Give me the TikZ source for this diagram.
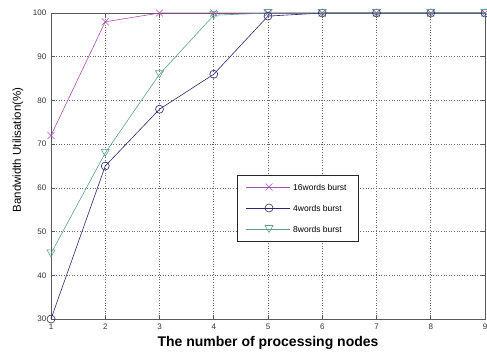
\documentclass[tikz,border=0pt]{standalone}
\usepackage{fontspec}
\setmainfont{Liberation Sans}
\usetikzlibrary{positioning}
\definecolor{burstsixteen}{RGB}{170,80,175}
\definecolor{burstfour}{RGB}{40,40,110}
\definecolor{bursteight}{RGB}{95,160,135}
\tikzstyle{gridline}=[dotted, gray!80!black, line width=0.6pt]
\tikzstyle{axisline}=[gray!70!black, line width=0.7pt]
\tikzstyle{ticklabel}=[font=\fontsize{8}{9}\selectfont, text=black!80, inner sep=1.5pt]
\tikzstyle{series}=[line width=0.6pt]
\tikzstyle{legendtext}=[font=\fontsize{8.5}{10}\selectfont, anchor=west, inner sep=1pt]
\newcommand{\markx}[2]{\draw[#2, line width=0.6pt] (#1) ++(-3.5pt,-3.5pt) -- ++(7pt,7pt) (#1) ++(-3.5pt,3.5pt) -- ++(7pt,-7pt);}
\newcommand{\marko}[2]{\draw[#2, line width=0.6pt] (#1) circle[radius=4pt];}
\newcommand{\markv}[2]{\draw[#2, line width=0.6pt] (#1) ++(-4pt,3.5pt) -- ++(8pt,0pt) -- ++(-4pt,-7pt) -- cycle;}

\begin{document}
\begin{tikzpicture}[x=1pt,y=1pt,node distance=2pt]
    \useasboundingbox (0,0) rectangle (487,360);
    \begin{scope}[shift={(-3.25,-90.14)}, x=54.25pt, y=4.371pt]
        % grid
        \foreach \x in {2,...,8}
            \draw[gridline] (\x,30) -- (\x,100);
        \foreach \v in {40,50,...,90}
            \draw[gridline] (1,\v) -- (9,\v);
        % ticks and labels
        \foreach \x in {1,...,9} {
            \draw[axisline] (\x,30) -- ++(0,4pt) (\x,100) -- ++(0,-4pt);
            \node[ticklabel, below=3pt] (xl\x) at (\x,30) {\x};
        }
        \foreach \v in {30,40,...,100} {
            \draw[axisline] (1,\v) -- ++(4pt,0) (9,\v) -- ++(-4pt,0);
            \node[ticklabel, left=3pt] (yl\v) at (1,\v) {\v};
        }
        \draw[axisline] (1,30) rectangle (9,100);
        % data
        \foreach \y [count=\i] in {72,98,100,100,100,100,100,100,100}
            \coordinate (a\i) at (\i,\y);
        \foreach \y [count=\i] in {30,65,78,86,99.3,100,100,100,100}
            \coordinate (b\i) at (\i,\y);
        \foreach \y [count=\i] in {45,68,86,99.5,100,100,100,100,100}
            \coordinate (c\i) at (\i,\y);
        \draw[series, burstsixteen] (a1) \foreach \i in {2,...,9} { -- (a\i) };
        \draw[series, burstfour] (b1) \foreach \i in {2,...,9} { -- (b\i) };
        \draw[series, bursteight] (c1) \foreach \i in {2,...,9} { -- (c\i) };
        \foreach \i in {1,...,9} {
            \markx{a\i}{burstsixteen}
            \marko{b\i}{burstfour}
            \markv{c\i}{bursteight}
        }
    \end{scope}
    % axis titles
    \node[font=\bfseries\fontsize{14}{16}\selectfont] (xtitle) at (268,17) {The number of processing nodes};
    \node[font=\fontsize{11.5}{13}\selectfont, rotate=90] (ytitle) at (18,210) {Bandwidth Utilisation(\%)};
    % legend
    \node[draw, black!85, line width=0.6pt, fill=white, minimum width=121pt, minimum height=66pt, inner sep=0pt] (legend) at (297.5,152) {};
    \coordinate (l1a) at (246,173); \coordinate (l1b) at (290,173); \coordinate (l1m) at (269,173);
    \coordinate (l2a) at (246,152); \coordinate (l2b) at (290,152); \coordinate (l2m) at (269,152);
    \coordinate (l3a) at (246,131); \coordinate (l3b) at (290,131); \coordinate (l3m) at (269,131);
    \draw[series, burstsixteen] (l1a) -- (l1b);
    \draw[series, burstfour] (l2a) -- (l2b);
    \draw[series, bursteight] (l3a) -- (l3b);
    \markx{l1m}{burstsixteen}
    \marko{l2m}{burstfour}
    \markv{l3m}{bursteight}
    \node[legendtext, right=of l1b] (t1) {16words burst};
    \node[legendtext, right=of l2b] (t2) {4words burst};
    \node[legendtext, right=of l3b] (t3) {8words burst};
\end{tikzpicture}
\end{document}
